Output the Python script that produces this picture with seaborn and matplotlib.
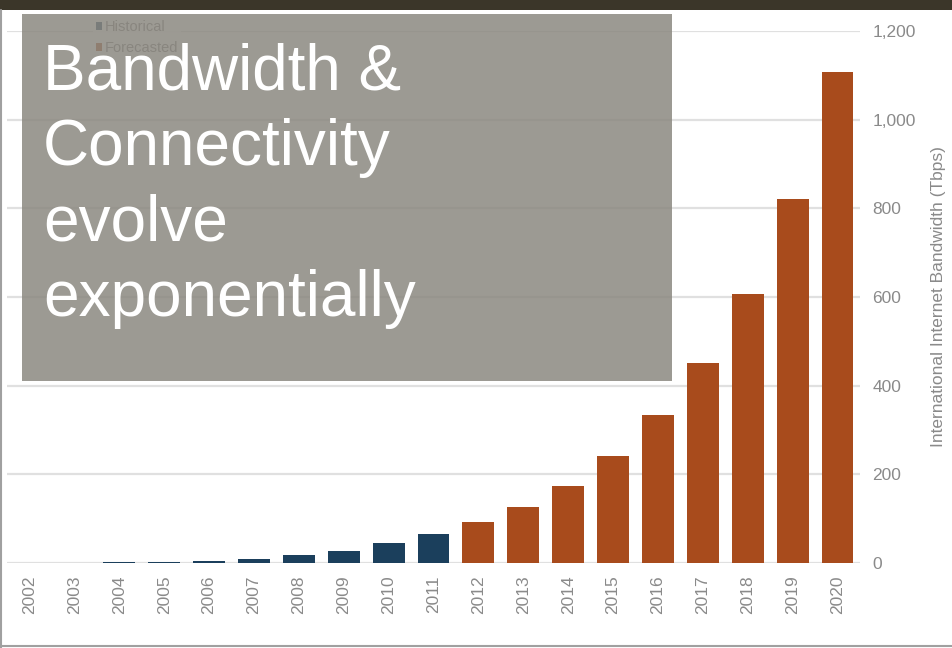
import matplotlib
matplotlib.use("Agg")
import matplotlib.pyplot as plt
import seaborn as sns
import pandas as pd
from matplotlib.patches import Rectangle, Patch
from matplotlib.lines import Line2D
from matplotlib.ticker import FuncFormatter

years = [str(y) for y in range(2002, 2021)]
bandwidth = [0, 0, 2, 2, 4, 9, 17, 27, 45, 65, 92, 126, 174, 241, 334, 451, 607, 821, 1107]
kind = ["Historical"] * 10 + ["Forecasted"] * 9
series_names = ["Historical", "Forecasted"]
series_colors = ["#1b3f5c", "#a84b1c"]
y_ticks = [0, 200, 400, 600, 800, 1000, 1200]
y_label = "International Internet Bandwidth (Tbps)"
title_text = "Bandwidth &\nConnectivity\nevolve\nexponentially"

df = pd.DataFrame({"year": years, "bw": bandwidth, "kind": kind})

sns.set_theme(style="white")
plt.rcParams["font.family"] = ["Liberation Sans", "DejaVu Sans"]

W, H = 953, 648
fig = plt.figure(figsize=(W / 100, H / 100), dpi=100)
fig.patch.set_facecolor("white")

ax = fig.add_axes([7 / W, (H - 563) / H, 853 / W, 532 / H])
sns.barplot(data=df, x="year", y="bw", hue="kind", hue_order=series_names,
            palette=series_colors, dodge=False, width=0.71, ax=ax,
            legend=False, saturation=1, edgecolor="none")

ax.set_xlim(-0.5, 18.5)
ax.set_ylim(0, 1200)
ax.set_yticks(y_ticks)
ax.yaxis.set_major_formatter(FuncFormatter(lambda v, p: f"{int(v):,}"))
ax.yaxis.tick_right()
ax.yaxis.set_label_position("right")
ax.set_ylabel(y_label, color="#8a8a8a", fontsize=12.5, labelpad=11)
ax.set_xlabel("")
ax.grid(axis="y", color="#e0e0e0", linewidth=1.6)
ax.set_axisbelow(True)
for s in ax.spines.values():
    s.set_visible(False)
ax.tick_params(axis="y", length=0, pad=9, labelsize=12.5, labelcolor="#8a8a8a")
ax.tick_params(axis="x", length=0, pad=9, labelsize=12.5, labelcolor="#8a8a8a", rotation=90)

handles = [Patch(facecolor=c, edgecolor="none") for c in series_colors]
leg = ax.legend(handles, series_names, loc="upper left",
                bbox_to_anchor=(93 / W, 1 - 17 / H), bbox_transform=fig.transFigure,
                frameon=True, fontsize=10.5, handlelength=0.45, handleheight=0.45,
                handletextpad=0.15, labelspacing=0.5, borderpad=0.2,
                borderaxespad=0)
leg.get_frame().set_facecolor("white")
leg.get_frame().set_edgecolor("none")
for t in leg.get_texts():
    t.set_color("#7a7a7a")

# top dark band and frame lines
fig.add_artist(Rectangle((0, 1 - 10 / H), 1, 10 / H, transform=fig.transFigure,
                         facecolor="#3b3629", edgecolor="none", zorder=5))
fig.add_artist(Line2D([1 / W, 1 / W], [0, 1 - 10 / H], transform=fig.transFigure,
                      color="#a0a0a0", linewidth=1.5, zorder=5))
fig.add_artist(Line2D([0, 1], [2 / H, 2 / H], transform=fig.transFigure,
                      color="#a0a0a0", linewidth=1.5, zorder=5))

# overlay box with title
fig.add_artist(Rectangle((22 / W, 1 - 381 / H), 650 / W, 367 / H,
                         transform=fig.transFigure, facecolor="#8b8880",
                         alpha=0.85, edgecolor="none", zorder=6))
fig.text(43 / W, 1 - 42 / H, title_text, color="white", fontsize=46,
         ha="left", va="top", linespacing=1.33, zorder=7)

fig.savefig("out.png", dpi=100)
